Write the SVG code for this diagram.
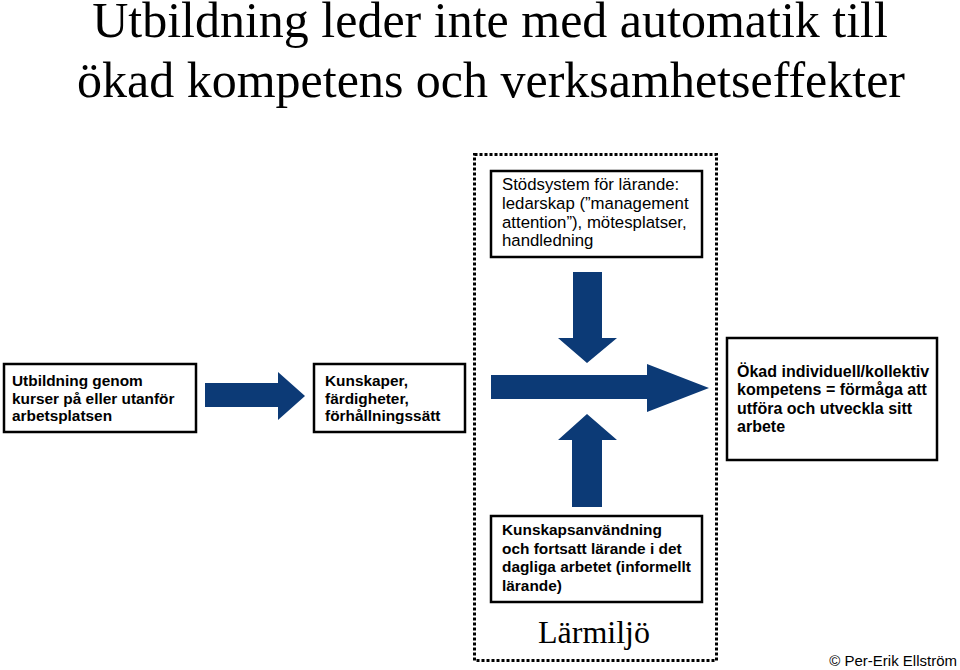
<svg xmlns="http://www.w3.org/2000/svg" width="960" height="670" viewBox="0 0 960 670">
<style>
.box{fill:#fff;stroke:#000;stroke-width:2.5}
.t{font-family:"Liberation Sans",Arial,sans-serif;font-size:15.4px;fill:#000}
.b{font-weight:bold}
.arr{fill:#0c3a76}
.title{font-family:"Liberation Serif","Times New Roman",serif;font-size:50px;fill:#000;text-anchor:middle}
</style>
<rect width="960" height="670" fill="#fff"/>
<g id="title">
<text class="title" x="490" y="37">Utbildning leder inte med automatik till</text>
<text class="title" x="491" y="97">ökad kompetens och verksamhetseffekter</text>
</g>
<g id="frame">
<rect x="474.5" y="154.5" width="242" height="506" fill="none" stroke="#000" stroke-width="3" stroke-dasharray="3 2"/>
<text x="594" y="643" font-family="Liberation Serif,Times New Roman,serif" font-size="32" text-anchor="middle">Lärmiljö</text>
</g>
<g id="stodsystem">
<rect class="box" x="491" y="171" width="211" height="86"/>
<text class="t" style="font-size:16.8px" x="502" y="190">Stödsystem för lärande:</text>
<text class="t" style="font-size:16.8px" x="502" y="209">ledarskap (”management</text>
<text class="t" style="font-size:16.8px" x="502" y="228">attention”), mötesplatser,</text>
<text class="t" style="font-size:16.8px" x="502" y="246">handledning</text>
</g>
<g id="utbildning">
<rect class="box" x="4" y="364" width="192" height="68"/>
<text class="t b" x="12" y="385.5">Utbildning genom</text>
<text class="t b" x="12" y="403.5">kurser på eller utanför</text>
<text class="t b" x="12" y="421">arbetsplatsen</text>
</g>
<g id="kunskaper">
<rect class="box" x="314" y="364" width="151" height="68"/>
<text class="t b" x="325" y="385.5">Kunskaper,</text>
<text class="t b" x="325" y="403.5">färdigheter,</text>
<text class="t b" x="325" y="421">förhållningssätt</text>
</g>
<g id="okad">
<rect class="box" x="727" y="338" width="210" height="122"/>
<text class="t b" style="font-size:16px" x="737" y="377">Ökad individuell/kollektiv</text>
<text class="t b" style="font-size:16px" x="737" y="395">kompetens = förmåga att</text>
<text class="t b" style="font-size:16px" x="737" y="413.5">utföra och utveckla sitt</text>
<text class="t b" style="font-size:16px" x="737" y="432">arbete</text>
</g>
<g id="kunskapsanvandning">
<rect class="box" x="491" y="516" width="211" height="86"/>
<text class="t b" x="502" y="535">Kunskapsanvändning</text>
<text class="t b" x="502" y="553.5">och fortsatt lärande i det</text>
<text class="t b" x="502" y="572">dagliga arbetet (informellt</text>
<text class="t b" x="502" y="590.5">lärande)</text>
</g>
<g id="connectors">
<polygon class="arr" points="205,383 278,383 278,372 305,396 278,420 278,407 205,407"/>
<polygon class="arr" points="491,375 647,375 647,364 709,388 647,412 647,399 491,399"/>
<polygon class="arr" points="573,272 602,272 602,338 617,338 587,363 558,338 573,338"/>
<polygon class="arr" points="572,507 602,507 602,440 617,440 587,414 558,440 572,440"/>
</g>
<text x="957" y="666" font-family="Liberation Sans,Arial,sans-serif" font-size="15" text-anchor="end">© Per-Erik Ellström</text>
</svg>
